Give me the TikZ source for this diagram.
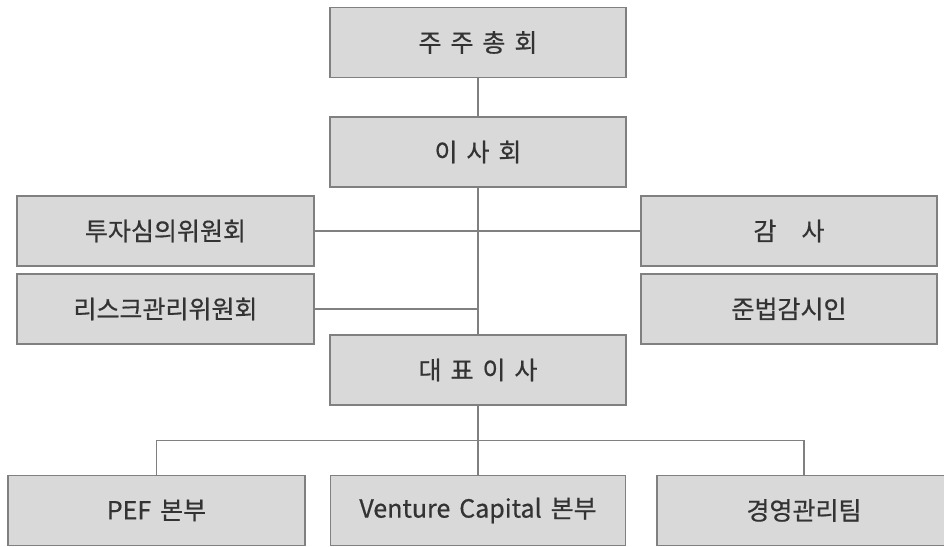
\documentclass[tikz,border=0pt]{standalone}
\usepackage{fontspec}
\setmainfont[WordSpace=1.6, UprightFeatures={FakeBold=0.6}]{Noto Sans CJK KR}
\definecolor{BoxFill}{RGB}{217,217,217}
\definecolor{BoxLine}{RGB}{128,128,128}
\definecolor{TextColor}{RGB}{51,51,51}
\usetikzlibrary{positioning, calc}
\tikzstyle{unit} = [draw=BoxLine, line width=1.6pt, fill=BoxFill, minimum width=296pt, minimum height=70pt, inner sep=0pt, text=TextColor, font=\fontsize{25}{30}\selectfont]
\tikzstyle{link} = [BoxLine, line width=1.4pt]

\begin{document}
\begin{tikzpicture}[x=1pt, y=1pt]
    \useasboundingbox (0,0) rectangle (944,-546);

    % Shareholders and board
    \node[unit] (meeting) at (478,-42.5) {주 주 총 회};
    \node[unit] (board) at (478,-152) {이 사 회};

    % Committees (left) and audit (right)
    \node[unit, minimum width=297pt] (invest) at (165.5,-231) {투자심의위원회};
    \node[unit, minimum width=297pt] (risk) at (165.5,-309) {리스크관리위원회};
    \node[unit] (audit) at (789,-231) {감\quad 사};
    \node[unit] (compliance) at (789,-309) {준법감시인};

    % CEO
    \node[unit] (ceo) at (478,-370) {대 표 이 사};

    % Divisions
    \node[unit, minimum width=297pt] (pef) at (156.5,-510.5) {PEF 본부};
    \node[unit, minimum width=295pt] (vc) at (478,-510.5) {Venture Capital 본부};
    \node[unit, minimum width=294pt] (mgmt) at (804,-510.5) {경영관리팀};

    % Connectors
    \draw[link] (meeting) -- (board);
    \draw[link] (board) -- (ceo);
    \draw[link] (invest) -- (audit);
    \draw[link] (risk.east) -- (risk.east -| board.south);
    \coordinate (bus) at ($(ceo.south)!0.5!(vc.north)$);
    \draw[link] (ceo) -- (vc);
    \draw[link] (pef.north) |- (bus) -| (mgmt.north);
\end{tikzpicture}
\end{document}
